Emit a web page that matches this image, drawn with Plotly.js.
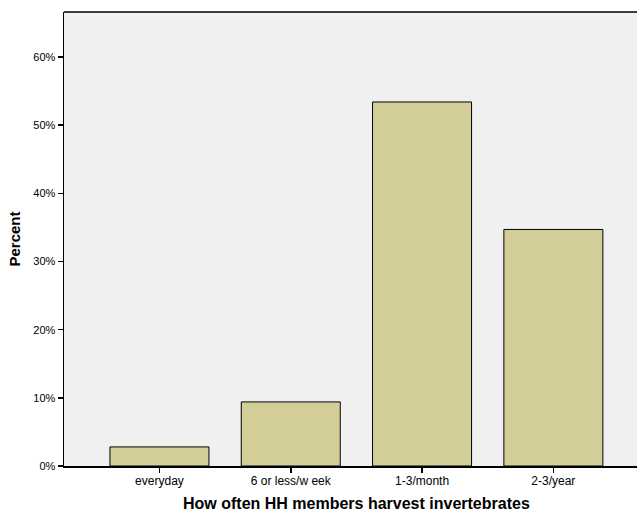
<!DOCTYPE html>
<html><head><meta charset="utf-8">
<script src="https://cdn.plot.ly/plotly-3.0.1.min.js"></script>
<style>html,body{margin:0;padding:0;background:#fff}#chart{width:637px;height:511px}</style>
</head><body><div id="chart"></div>
<script>
const categories = ["everyday", "6 or less/w eek", "1-3/month", "2-3/year"];
const percents = [2.8, 9.4, 53.4, 34.7];
const yTicks = [0, 10, 20, 30, 40, 50, 60];
const xTitle = 'How often HH members harvest invertebrates';

const trace = {
  type: 'bar',
  x: categories,
  y: percents,
  width: 0.754,
  marker: {color: '#d3ce98', line: {color: '#000000', width: 1}},
  hoverinfo: 'none'
};
const layout = {
  width: 637, height: 511,
  margin: {l: 64, r: 0, t: 12, b: 45},
  paper_bgcolor: '#ffffff',
  plot_bgcolor: '#f0f0f0',
  showlegend: false,
  font: {family: 'Liberation Sans, Arial, sans-serif', size: 11, color: '#000'},
  xaxis: {
    type: 'category',
    range: [-0.727, 3.637],
    showgrid: false, zeroline: false,
    showline: true, linecolor: '#000', linewidth: 1.5,
    ticks: 'outside', ticklen: 5, tickcolor: '#000', tickwidth: 1.5,
    tickfont: {size: 12},
    ticklabelstandoff: -2
  },
  yaxis: {
    range: [0, 66.6],
    tickvals: yTicks,
    ticktext: yTicks.map(v => v + '%'),
    showgrid: false, zeroline: false,
    showline: true, linecolor: '#000', linewidth: 1.5,
    ticks: 'outside', ticklen: 5, tickcolor: '#000', tickwidth: 1.5,
    tickfont: {size: 11},
    title: {text: 'Percent', font: {size: 15, weight: 'bold'}, standoff: 9}
  },
  annotations: [{
    text: '<b>' + xTitle + '</b>', xref: 'paper', yref: 'paper',
    x: 0.5105, y: 0, yshift: -37, xanchor: 'center', yanchor: 'middle',
    showarrow: false, font: {size: 16, color: '#000'}
  }],
  shapes: [{type: 'line', xref: 'paper', yref: 'paper', x0: 0, x1: 1, y0: 1, y1: 1, line: {color: '#000', width: 1.5}}]
};
Plotly.newPlot('chart', [trace], layout, {staticPlot: true, displayModeBar: false});
</script></body></html>
